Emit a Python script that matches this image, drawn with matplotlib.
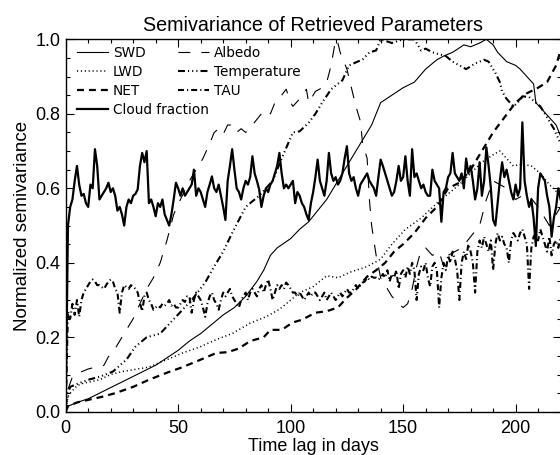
import matplotlib
matplotlib.use("Agg")
import matplotlib.pyplot as plt
import numpy as np
from matplotlib.ticker import MultipleLocator

plt.rcParams['lines.scale_dashes'] = False

# ---------------- data ----------------
daily_lag = list(range(0, 221))

cloud_fraction = [
    0.00, 0.50, 0.55, 0.57, 0.62, 0.66, 0.61, 0.58, 0.585, 0.56,
    0.55, 0.61, 0.60, 0.705, 0.66, 0.57, 0.58, 0.59, 0.60, 0.615,
    0.59, 0.60, 0.58, 0.54, 0.55, 0.53, 0.50, 0.55, 0.57, 0.56,
    0.58, 0.585, 0.597, 0.66, 0.695, 0.67, 0.70, 0.56, 0.57, 0.55,
    0.525, 0.56, 0.55, 0.57, 0.53, 0.515, 0.50, 0.53, 0.57, 0.615,
    0.60, 0.58, 0.60, 0.58, 0.59, 0.60, 0.61, 0.65, 0.58, 0.60,
    0.59, 0.57, 0.55, 0.59, 0.61, 0.632, 0.60, 0.59, 0.61, 0.58,
    0.55, 0.515, 0.62, 0.66, 0.705, 0.65, 0.60, 0.59, 0.57, 0.60,
    0.62, 0.61, 0.63, 0.686, 0.64, 0.62, 0.597, 0.55, 0.58, 0.60,
    0.59, 0.61, 0.62, 0.64, 0.66, 0.695, 0.64, 0.60, 0.61, 0.60,
    0.61, 0.62, 0.56, 0.59, 0.58, 0.56, 0.55, 0.53, 0.515, 0.56,
    0.59, 0.63, 0.677, 0.62, 0.60, 0.58, 0.62, 0.695, 0.64, 0.62,
    0.63, 0.61, 0.62, 0.64, 0.68, 0.713, 0.64, 0.62, 0.63, 0.60,
    0.58, 0.61, 0.62, 0.63, 0.64, 0.62, 0.61, 0.60, 0.58, 0.63,
    0.677, 0.66, 0.64, 0.62, 0.60, 0.58, 0.59, 0.62, 0.66, 0.62,
    0.63, 0.686, 0.62, 0.58, 0.705, 0.63, 0.64, 0.62, 0.60, 0.61,
    0.59, 0.58, 0.58, 0.65, 0.62, 0.61, 0.60, 0.51, 0.59, 0.60,
    0.63, 0.64, 0.695, 0.64, 0.63, 0.62, 0.64, 0.60, 0.68, 0.64,
    0.66, 0.62, 0.57, 0.60, 0.67, 0.58, 0.62, 0.71, 0.66, 0.60,
    0.515, 0.50, 0.56, 0.62, 0.67, 0.63, 0.65, 0.62, 0.59, 0.57,
    0.61, 0.58, 0.60, 0.777, 0.62, 0.58, 0.55, 0.57, 0.52, 0.445,
    0.60, 0.64, 0.63, 0.62, 0.58, 0.55, 0.47, 0.52, 0.55, 0.60,
    0.57,
]

tau = [
    0.00, 0.27, 0.25, 0.29, 0.26, 0.30, 0.255, 0.30, 0.32, 0.33,
    0.34, 0.35, 0.355, 0.35, 0.34, 0.34, 0.335, 0.33, 0.34, 0.35,
    0.355, 0.35, 0.33, 0.32, 0.266, 0.32, 0.34, 0.335, 0.33, 0.34,
    0.336, 0.33, 0.32, 0.293, 0.27, 0.31, 0.32, 0.30, 0.29, 0.274,
    0.28, 0.285, 0.28, 0.29, 0.285, 0.29, 0.30, 0.285, 0.29, 0.28,
    0.28, 0.29, 0.30, 0.295, 0.31, 0.31, 0.266, 0.30, 0.32, 0.31,
    0.30, 0.28, 0.255, 0.29, 0.31, 0.32, 0.30, 0.29, 0.274, 0.30,
    0.32, 0.31, 0.32, 0.33, 0.31, 0.30, 0.29, 0.28, 0.30, 0.31,
    0.32, 0.30, 0.32, 0.33, 0.32, 0.31, 0.33, 0.34, 0.32, 0.34,
    0.355, 0.33, 0.30, 0.32, 0.34, 0.33, 0.34, 0.33, 0.347, 0.34,
    0.33, 0.32, 0.32, 0.31, 0.32, 0.31, 0.30, 0.31, 0.32, 0.31,
    0.32, 0.32, 0.31, 0.30, 0.31, 0.32, 0.30, 0.31, 0.32, 0.31,
    0.30, 0.31, 0.32, 0.31, 0.32, 0.33, 0.32, 0.32, 0.33, 0.34,
    0.33, 0.34, 0.347, 0.35, 0.36, 0.355, 0.363, 0.36, 0.36, 0.355,
    0.36, 0.37, 0.36, 0.38, 0.35, 0.37, 0.36, 0.38, 0.33, 0.37,
    0.38, 0.36, 0.39, 0.37, 0.40, 0.38, 0.30, 0.37, 0.39, 0.38,
    0.40, 0.36, 0.336, 0.39, 0.40, 0.38, 0.28, 0.36, 0.40, 0.38,
    0.42, 0.40, 0.43, 0.41, 0.38, 0.30, 0.40, 0.43, 0.41, 0.45,
    0.43, 0.40, 0.32, 0.43, 0.46, 0.44, 0.47, 0.45, 0.43, 0.46,
    0.38, 0.45, 0.48, 0.46, 0.47, 0.45, 0.44, 0.40, 0.46, 0.48,
    0.47, 0.46, 0.48, 0.49, 0.47, 0.45, 0.33, 0.44, 0.47, 0.48,
    0.46, 0.49, 0.47, 0.45, 0.43, 0.47, 0.42, 0.45, 0.46, 0.44,
    0.47,
]

swd_lag = [0, 1, 3, 5, 10, 15, 20, 25, 30, 35, 40, 45, 50, 55, 60, 65, 70, 75,
           80, 85, 88, 91, 94, 100, 104, 108, 112, 116, 120, 124, 128, 132,
           136, 140, 145, 150, 155, 160, 165, 168, 172, 177, 180, 184, 187,
           190, 192, 196, 200, 202, 205, 208, 209, 212, 215, 218, 220]
swd = [0.0, 0.015, 0.02, 0.025, 0.035, 0.05, 0.065, 0.08, 0.095, 0.11, 0.125,
       0.145, 0.165, 0.19, 0.21, 0.235, 0.26, 0.28, 0.31, 0.35, 0.38, 0.42,
       0.44, 0.465, 0.49, 0.51, 0.54, 0.57, 0.61, 0.65, 0.69, 0.73, 0.77,
       0.83, 0.85, 0.87, 0.885, 0.92, 0.945, 0.955, 0.965, 0.985, 0.98,
       0.99, 1.0, 0.985, 0.965, 0.94, 0.93, 0.92, 0.90, 0.88, 0.83, 0.81,
       0.79, 0.77, 0.74]

lwd_lag = [0, 1, 2, 5, 8, 12, 15, 20, 25, 30, 37, 45, 52, 60, 67, 74, 82, 89,
           95, 100, 104, 110, 116, 121, 127, 134, 140, 145, 151, 158, 165, 170,
           175, 180, 185, 190, 193, 196, 199, 203, 207, 211, 215, 220]
lwd = [0.0, 0.04, 0.05, 0.07, 0.077, 0.082, 0.086, 0.10, 0.108, 0.113, 0.12,
       0.14, 0.158, 0.175, 0.194, 0.21, 0.238, 0.255, 0.275, 0.30, 0.32,
       0.336, 0.365, 0.36, 0.376, 0.39, 0.41, 0.45, 0.49, 0.52, 0.56, 0.585,
       0.61, 0.64, 0.67, 0.69, 0.70, 0.68, 0.66, 0.665, 0.66, 0.64, 0.61,
       0.58]

net_lag = [0, 1, 3, 5, 10, 16, 22, 30, 37, 45, 52, 60, 67, 72, 77, 82, 88, 91,
           96, 101, 105, 111, 116, 121, 125, 129, 134, 138, 142, 146, 150, 155,
           160, 165, 170, 175, 180, 185, 190, 195, 200, 205, 210, 214, 218, 220]
net = [0.0, 0.015, 0.02, 0.025, 0.032, 0.04, 0.05, 0.067, 0.086, 0.105, 0.12,
       0.14, 0.158, 0.16, 0.17, 0.19, 0.20, 0.22, 0.22, 0.24, 0.247, 0.266,
       0.27, 0.28, 0.306, 0.328, 0.363, 0.38, 0.40, 0.43, 0.45, 0.48, 0.52,
       0.55, 0.60, 0.615, 0.65, 0.70, 0.75, 0.79, 0.83, 0.855, 0.87, 0.885,
       0.93, 0.97]

albedo_lag = [0, 1, 3, 6, 10, 12, 15, 17, 19, 21, 24, 27, 30, 33, 36, 39, 42,
              45, 48, 51, 55, 58, 61, 64, 66, 68, 70, 72, 74, 76, 78, 80, 83,
              85, 87, 89, 91, 93, 96, 98, 100, 101, 104, 107, 108, 111, 114,
              116, 118, 120, 121, 122, 125, 127, 129, 131, 132, 134, 135, 136,
              138, 140, 142, 145, 148, 150, 152, 154, 156, 158, 160, 163, 166,
              168, 170, 173, 176, 180, 184, 187, 190, 193, 196, 200, 203, 206,
              210, 215, 220]
albedo = [0.0, 0.06, 0.094, 0.105, 0.115, 0.118, 0.12, 0.125, 0.148, 0.16,
          0.19, 0.22, 0.25, 0.29, 0.33, 0.36, 0.40, 0.46, 0.53, 0.57, 0.62,
          0.65, 0.68, 0.72, 0.75, 0.76, 0.745, 0.77, 0.77, 0.75, 0.76, 0.75,
          0.77, 0.785, 0.80, 0.81, 0.80, 0.83, 0.85, 0.866, 0.83, 0.82, 0.84,
          0.866, 0.83, 0.86, 0.87, 0.884, 0.93, 1.0, 0.99, 0.965, 0.92, 0.87,
          0.82, 0.78, 0.72, 0.68, 0.57, 0.50, 0.42, 0.36, 0.34, 0.31, 0.29,
          0.28, 0.29, 0.33, 0.39, 0.435, 0.44, 0.42, 0.43, 0.39, 0.42, 0.43,
          0.44, 0.47, 0.50, 0.57, 0.62, 0.61, 0.60, 0.57, 0.58, 0.58, 0.55,
          0.50, 0.55]

temp_lag = [0, 1, 2, 6, 10, 15, 21, 27, 31, 36, 42, 49, 56, 62, 66, 70, 74,
            80, 86, 92, 96, 101, 104, 108, 111, 114, 118, 123, 126, 132, 135,
            138, 140, 145, 150, 155, 158, 160, 163, 166, 169, 172, 175, 178,
            182, 186, 188, 191, 193, 194, 196, 199, 201, 203, 206, 208, 211,
            214, 217, 220]
temperature = [0.0, 0.05, 0.067, 0.077, 0.086, 0.094, 0.108, 0.14, 0.175,
               0.20, 0.21, 0.255, 0.30, 0.347, 0.39, 0.43, 0.48, 0.55, 0.58,
               0.62, 0.68, 0.75, 0.753, 0.776, 0.80, 0.83, 0.866, 0.89, 0.93,
               0.946, 0.965, 0.97, 1.0, 0.99, 1.0, 1.0, 0.97, 0.975, 0.965,
               0.96, 0.955, 0.94, 0.93, 0.92, 0.935, 0.945, 0.94, 0.91, 0.885,
               0.86, 0.84, 0.82, 0.83, 0.847, 0.845, 0.835, 0.82, 0.79, 0.76,
               0.72]

x_ticks = [0, 50, 100, 150, 200]
y_ticks = [0.0, 0.2, 0.4, 0.6, 0.8, 1.0]

# ---------------- figure ----------------
W, H = 560, 455
fig = plt.figure(figsize=(W / 100, H / 100), dpi=100)
left, right, top, bottom = 65.7, 560.6, 39.3, 411.8
ax = fig.add_axes([left / W, (H - bottom) / H, (right - left) / W, (bottom - top) / H])

k = 'black'
l_swd, = ax.plot(swd_lag, swd, color=k, lw=0.8, label='SWD')
l_lwd, = ax.plot(lwd_lag, lwd, color=k, lw=1.1, linestyle=(0, (0.8, 2.0)), label='LWD')
l_net, = ax.plot(net_lag, net, color=k, lw=1.6, linestyle=(0, (5.0, 3.6)), label='NET')
l_cf, = ax.plot(daily_lag, cloud_fraction, color=k, lw=1.6, label='Cloud fraction')
l_alb, = ax.plot(albedo_lag, albedo, color=k, lw=0.8, linestyle=(0, (8.5, 8.0)), label='Albedo')
l_tmp, = ax.plot(temp_lag, temperature, color=k, lw=1.5,
                 linestyle=(0, (5.0, 2.2, 0.8, 2.2, 0.8, 2.2, 0.8, 2.2)), label='Temperature')
l_tau, = ax.plot(daily_lag, tau, color=k, lw=1.5,
                 linestyle=(0, (4.3, 2.2, 0.8, 2.2)), label='TAU')

ax.set_xlim(0, 220)
ax.set_ylim(0, 1.0)
ax.set_xticks(x_ticks)
ax.set_yticks(y_ticks)
ax.set_yticklabels([f'{v:.1f}' for v in y_ticks])
ax.xaxis.set_minor_locator(MultipleLocator(10))
ax.yaxis.set_minor_locator(MultipleLocator(0.05))
ax.tick_params(which='both', direction='in', top=True, right=True, width=0.8)
ax.tick_params(which='major', length=6)
ax.tick_params(which='minor', length=3)
ax.tick_params(axis='x', labelsize=13, pad=6)
ax.tick_params(axis='y', labelsize=13, pad=4)
for lab in ax.get_xticklabels() + ax.get_yticklabels():
    lab.set_fontfamily('Liberation Sans')
for s in ax.spines.values():
    s.set_linewidth(1.0)

ax.set_title('Semivariance of Retrieved Parameters', fontsize=14.2,
             fontfamily='Liberation Sans', pad=6)
ax.set_xlabel('Time lag in days', fontsize=13, fontfamily='Liberation Sans', labelpad=0.5)
ax.set_ylabel('Normalized semivariance', fontsize=13.5, fontfamily='Liberation Sans', labelpad=3)

legkw = dict(frameon=False, handlelength=2.3, handletextpad=0.35,
             labelspacing=0.36, borderpad=0, borderaxespad=0, loc='upper left',
             prop={'family': 'DejaVu Sans', 'size': 9.8})
leg1 = ax.legend(handles=[l_swd, l_lwd, l_net, l_cf],
                 bbox_to_anchor=((77 - left) / (right - left), (bottom - 46) / (bottom - top)), **legkw)
ax.add_artist(leg1)
leg2 = ax.legend(handles=[l_alb, l_tmp, l_tau],
                 bbox_to_anchor=((178 - left) / (right - left), (bottom - 46) / (bottom - top)), **legkw)

fig.savefig('out.png', dpi=100)
